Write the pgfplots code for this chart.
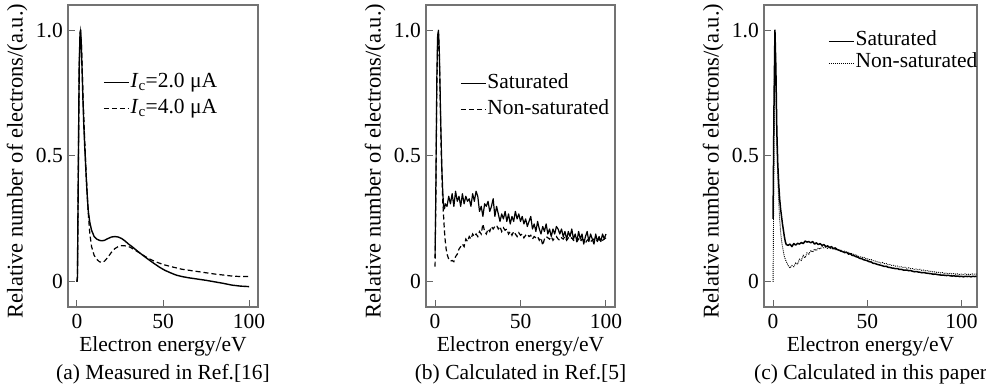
\documentclass[border=0pt]{standalone}
\usepackage{fontspec}
\setmainfont{Liberation Serif}
\usepackage{pgfplots}
\usepackage{pgfplotstable}
\pgfplotsset{compat=1.18}
\newcommand\fs{\fontsize{21.5bp}{25bp}\selectfont}
\newcommand\fy{\fontsize{22.5bp}{26bp}\selectfont}
\newcommand\fx{\fontsize{21.5bp}{25bp}\selectfont}

\pgfplotstableread{
x y
0 0
0.3 0.02
0.8 0.45
1.3 0.85
1.8 0.99
2.1 1.0
2.5 0.95
3.0 0.84
3.5 0.72
4.0 0.62
4.5 0.54
5.0 0.47
5.5 0.40
6.0 0.34
6.6 0.28
7.5 0.235
8.5 0.205
10 0.18
11.5 0.17
13 0.165
14.5 0.163
16 0.165
18 0.172
20 0.178
22 0.18
24 0.178
26 0.172
28 0.162
30 0.15
32 0.14
35 0.123
38 0.107
41.5 0.089
45 0.072
48 0.058
51 0.046
55 0.034
58 0.026
61 0.021
65 0.016
70 0.011
75 0.006
80 0.0
85 -0.006
90 -0.013
95 -0.017
100 -0.019
}\dataAsolid

\pgfplotstableread{
x y
0 0
0.3 0.02
0.8 0.45
1.3 0.85
1.8 0.98
2.1 0.995
2.6 0.95
3.1 0.84
3.6 0.73
4.1 0.63
4.6 0.55
5.1 0.47
5.6 0.40
6.1 0.33
6.7 0.26
7.5 0.19
8.5 0.14
10 0.105
11.5 0.09
13 0.08
14.5 0.077
16 0.082
18 0.098
20 0.117
22 0.132
24 0.14
26 0.144
28 0.143
30.8 0.138
34 0.125
38 0.108
41.5 0.093
45 0.082
48 0.074
51 0.067
55 0.06
61 0.05
65 0.046
70 0.041
75 0.036
80 0.031
85 0.027
90 0.023
95 0.021
100 0.021
}\dataAdash

\pgfplotstableread{
x y
0 0.095
0.5 0.4
1 0.8
1.5 0.98
2 1.0
2.5 0.92
3 0.75
3.5 0.58
4 0.45
4.5 0.36
5 0.30
5.5 0.29
6 0.31
7 0.30
8 0.34
9 0.31
10 0.35
11 0.30
12 0.36
13 0.32
14 0.34
15 0.30
16 0.35
17 0.31
18 0.34
19 0.32
20 0.33
21 0.30
22 0.35
23 0.32
24 0.36
25 0.34
26 0.28
27 0.30
28 0.26
29 0.31
30 0.30
31 0.32
32 0.28
33 0.30
34 0.33
35 0.26
36 0.30
37 0.27
38 0.24
39 0.27
40 0.25
41 0.28
42 0.24
43 0.27
44 0.23
45 0.26
46 0.24
47 0.28
48 0.25
49 0.27
50 0.24
51 0.26
52 0.23
53 0.25
54 0.22
55 0.24
56 0.26
57 0.21
58 0.23
59 0.20
60 0.24
61 0.21
62 0.19
63 0.22
64 0.20
65 0.23
66 0.19
67 0.21
68 0.18
69 0.21
70 0.19
71 0.22
72 0.21
73 0.19
74 0.21
75 0.18
76 0.20
77 0.17
78 0.20
79 0.18
80 0.21
81 0.17
82 0.19
83 0.16
84 0.20
85 0.17
86 0.19
87 0.15
88 0.18
89 0.20
90 0.16
91 0.19
92 0.17
93 0.15
94 0.19
95 0.16
96 0.18
97 0.16
98 0.19
99 0.17
100 0.19
}\dataBsat

\pgfplotstableread{
x y
0 0.06
0.5 0.35
1 0.75
1.5 0.95
2 0.99
2.5 0.9
3 0.72
3.5 0.55
4 0.42
4.5 0.32
5 0.26
5.5 0.20
6 0.16
6.5 0.13
7 0.11
8 0.09
9 0.082
10 0.085
11 0.08
12 0.10
13 0.11
14 0.13
15 0.14
16 0.15
17 0.14
18 0.17
19 0.16
20 0.18
21 0.17
22 0.19
23 0.18
24 0.19
25 0.18
26 0.20
27 0.19
28 0.23
29 0.20
30 0.19
31 0.21
32 0.20
33 0.22
34 0.21
35 0.22
36 0.225
37 0.21
38 0.22
39 0.20
40 0.215
41 0.205
42 0.21
43 0.19
44 0.20
45 0.185
46 0.20
47 0.19
48 0.18
49 0.195
50 0.185
51 0.19
52 0.175
53 0.185
54 0.19
55 0.18
56 0.185
57 0.17
58 0.18
59 0.175
60 0.18
61 0.165
62 0.175
63 0.145
64 0.17
65 0.18
66 0.175
67 0.17
68 0.18
69 0.165
70 0.175
71 0.18
72 0.17
73 0.165
74 0.175
75 0.17
76 0.18
77 0.165
78 0.175
79 0.17
80 0.175
81 0.165
82 0.17
83 0.16
84 0.17
85 0.16
86 0.17
87 0.165
88 0.155
89 0.165
90 0.17
91 0.16
92 0.165
93 0.17
94 0.16
95 0.165
96 0.17
97 0.16
98 0.165
99 0.17
100 0.175
}\dataBnon

\pgfplotstableread{
x y
0 0.25
0.5 0.7
1 1.0
1.5 0.85
2 0.6
2.5 0.47
3 0.39
3.5 0.33
4 0.29
4.5 0.26
5 0.23
5.5 0.205
6 0.18
6.5 0.16
7 0.148
8 0.145
9 0.15
10 0.14
11 0.152
12 0.146
13 0.153
14 0.15
15 0.156
16 0.152
17 0.162
18 0.158
19 0.16
20 0.155
21 0.16
22 0.15
23 0.155
24 0.148
25 0.152
26 0.145
27 0.148
28 0.14
29 0.143
30 0.136
31 0.14
32 0.132
33 0.135
34 0.128
35 0.126
36 0.122
37 0.12
38 0.116
39 0.118
40 0.11
41 0.112
42 0.105
43 0.104
44 0.1
45 0.098
46 0.093
47 0.092
48 0.088
49 0.086
50 0.084
51 0.08
52 0.079
53 0.074
54 0.073
55 0.07
56 0.068
57 0.066
58 0.064
59 0.061
60 0.062
61 0.058
62 0.057
63 0.055
64 0.054
65 0.052
66 0.053
67 0.049
68 0.05
69 0.047
70 0.046
71 0.047
72 0.044
73 0.045
74 0.042
75 0.04
76 0.041
77 0.039
78 0.038
79 0.036
80 0.037
81 0.035
82 0.034
83 0.033
84 0.032
85 0.03
86 0.031
87 0.029
88 0.028
89 0.027
90 0.027
91 0.026
92 0.025
93 0.026
94 0.024
95 0.023
96 0.024
97 0.022
98 0.023
99 0.021
100 0.022
101 0.02
102 0.022
103 0.021
104 0.022
105 0.02
106 0.022
107 0.021
108 0.022
}\dataCsat

\pgfplotstableread{
x y
0 0.0
0.3 0.3
0.6 0.7
0.9 0.93
1.2 0.96
1.5 0.8
2 0.55
2.5 0.42
3 0.32
3.5 0.25
4 0.2
4.5 0.165
5 0.14
5.5 0.12
6 0.1
7 0.08
8 0.065
9 0.055
10 0.065
11 0.06
12 0.075
13 0.07
14 0.09
15 0.085
16 0.105
17 0.095
18 0.115
19 0.11
20 0.125
21 0.118
22 0.13
23 0.124
24 0.135
25 0.13
26 0.14
27 0.135
28 0.138
29 0.133
30 0.136
31 0.13
32 0.133
33 0.127
34 0.13
35 0.124
36 0.126
37 0.12
38 0.122
39 0.116
40 0.117
41 0.112
42 0.113
43 0.107
44 0.108
45 0.102
46 0.1
47 0.097
48 0.098
49 0.093
50 0.092
51 0.088
52 0.089
53 0.084
54 0.083
55 0.08
56 0.079
57 0.075
58 0.077
59 0.072
60 0.073
61 0.068
62 0.069
63 0.065
64 0.066
65 0.062
66 0.063
67 0.059
68 0.06
69 0.057
70 0.058
71 0.054
72 0.056
73 0.052
74 0.053
75 0.049
76 0.051
77 0.048
78 0.05
79 0.045
80 0.047
81 0.043
82 0.045
83 0.041
84 0.042
85 0.039
86 0.04
87 0.037
88 0.038
89 0.035
90 0.037
91 0.033
92 0.035
93 0.032
94 0.034
95 0.031
96 0.033
97 0.03
98 0.032
99 0.029
100 0.031
101 0.029
102 0.032
103 0.028
104 0.031
105 0.029
106 0.032
107 0.03
108 0.031
}\dataCnon

\pgfplotsset{
  legend image code/.code={\draw[#1] (0bp,0bp) -- (25bp,0bp);},
  myax/.style={
    scale only axis, anchor=south west, height=302bp,
    ymin=-0.1, ymax=1.1, ytick={0,0.5,1}, yticklabels={0,0.5,1.0},
    xtick={0,50,100}, xticklabels={0,50,100},
    tick align=inside, xtick pos=left, ytick pos=left,
    major tick length=7bp,
    axis line style={black!55, line width=1.1bp},
    every tick/.append style={black!60, line width=1bp},
    tick label style={font=\fs},
    xticklabel style={anchor=base, inner sep=0pt, yshift=-21bp},
    yticklabel style={anchor=east, inner sep=0pt, xshift=-5bp},
    legend style={draw=none, fill=none, font=\fs, anchor=north west, inner sep=0pt,
       nodes={inner sep=1bp, text height=15bp, text depth=5bp}},
    legend cell align=left,
    clip=false,
  },
  solidl/.style={black, line width=1.4bp, line join=round},
  dashl/.style={black, line width=1.2bp, dash pattern=on 5bp off 3bp},
}
\tikzset{lab/.style={inner sep=0pt, outer sep=0pt}}

\begin{document}
\begin{tikzpicture}
\useasboundingbox (0,0) rectangle (986bp,389bp);

% (a)
\begin{axis}[myax, at={(68bp,82bp)}, width=190bp, xmin=-5.2, xmax=105.2,
  legend style={at={(rel axis cs:0.184,0.78)}, row sep=4bp}]
\addplot[solidl] table {\dataAsolid};
\addlegendentry{\textit{I}\textsubscript{c}=2.0 μA}
\addplot[dashl] table {\dataAdash};
\addlegendentry{\textit{I}\textsubscript{c}=4.0 μA}
\node[lab, rotate=90, font=\fy] at ([xshift=-51bp,yshift=-5bp]rel axis cs:0,0.5) {Relative number of electrons/(a.u.)};
\node[lab, anchor=base, font=\fx] at ([yshift=-44bp]rel axis cs:0.5,0) {Electron energy/eV};
\node[lab, anchor=base, font=\fs] at ([yshift=-72bp]rel axis cs:0.5,0) {(a) Measured in Ref.[16]};
\end{axis}

% (b)
\begin{axis}[myax, at={(426bp,82bp)}, width=189bp, xmin=-5.3, xmax=105.3,
  legend style={at={(rel axis cs:0.18,0.777)}, row sep=4bp}]
\addplot[solidl, line width=1.2bp] table {\dataBsat};
\addlegendentry{Saturated}
\addplot[dashl] table {\dataBnon};
\addlegendentry{Non-saturated}
\node[lab, rotate=90, font=\fy] at ([xshift=-51bp,yshift=-5bp]rel axis cs:0,0.5) {Relative number of electrons/(a.u.)};
\node[lab, anchor=base, font=\fx] at ([yshift=-44bp]rel axis cs:0.5,0) {Electron energy/eV};
\node[lab, anchor=base, font=\fs] at ([yshift=-72bp]rel axis cs:0.5,0) {(b) Calculated in Ref.[5]};
\end{axis}

% (c)
\begin{axis}[myax, at={(764bp,82bp)}, width=213bp, xmin=-4.8, xmax=108.2,
  legend style={at={(rel axis cs:0.30,0.912)}, row sep=3bp,
    nodes={inner sep=1bp, text height=13bp, text depth=4bp}}]
\addplot[solidl, line width=1.5bp] table {\dataCsat};
\addlegendentry{Saturated}
\addplot[black, line width=0.9bp, dash pattern=on 1bp off 1bp] table {\dataCnon};
\addlegendentry{Non-saturated}
\node[lab, rotate=90, font=\fy] at ([xshift=-51bp,yshift=-5bp]rel axis cs:0,0.5) {Relative number of electrons/(a.u.)};
\node[lab, anchor=base, font=\fx] at ([yshift=-44bp]rel axis cs:0.5,0) {Electron energy/eV};
\node[lab, anchor=base, font=\fs] at ([yshift=-72bp]rel axis cs:0.5,0) {(c) Calculated in this paper};
\end{axis}
\end{tikzpicture}
\end{document}
